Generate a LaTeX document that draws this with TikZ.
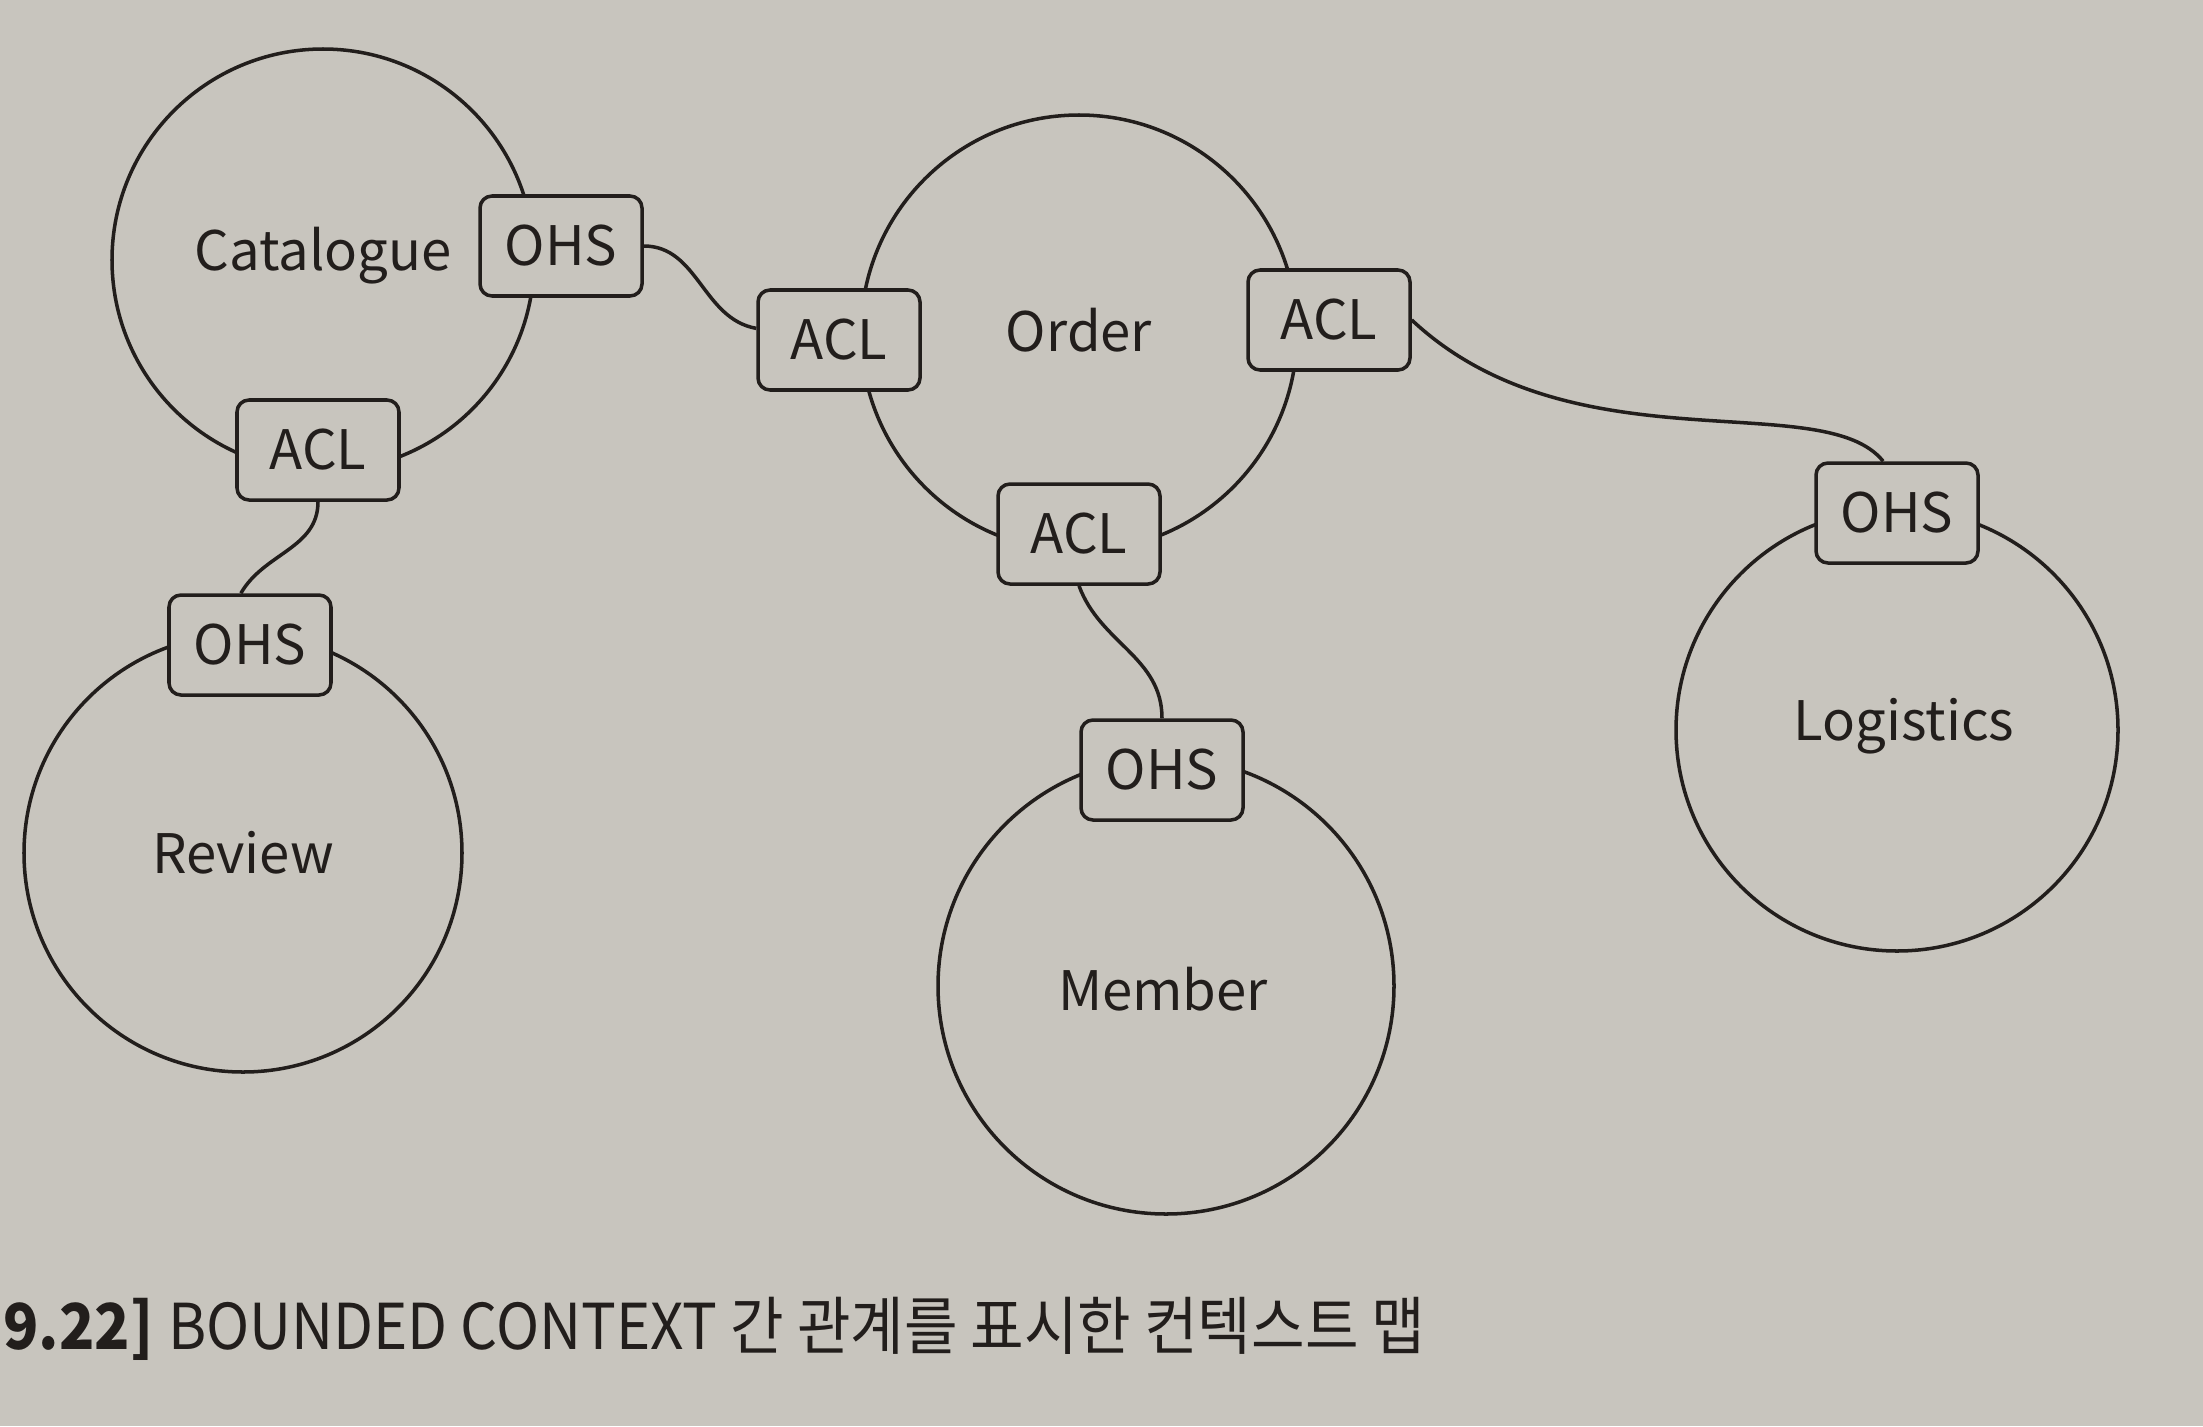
\documentclass[tikz,border=0pt]{standalone}
\usepackage{fontspec}
\setmainfont{Noto Sans CJK KR}
\definecolor{paper}{RGB}{200,197,190}
\definecolor{ink}{RGB}{34,30,28}
\tikzset{
  ctx/.style={circle,draw=ink,line width=1pt,minimum size=#1,inner sep=0pt},
  rel/.style={draw=ink,fill=paper,line width=1pt,rounded corners=1.2mm,minimum width=1.62cm,minimum height=1cm,inner sep=0pt},
  link/.style={draw=ink,line width=1pt}
}
\begin{document}
\begin{tikzpicture}[font=\fontsize{15.5}{18}\selectfont,color=ink]
				\fill[paper] (0,0) rectangle (22.03,-14.26);
				\useasboundingbox (0,0) rectangle (22.03,-14.26);
				% bounded contexts
				\node[ctx=4.22cm] (catalogue) at (3.23,-2.60) {};
				\node[ctx=4.36cm] (order) at (10.79,-3.33) {};
				\node[ctx=4.38cm] (review) at (2.43,-8.53) {};
				\node[ctx=4.56cm] (member) at (11.66,-9.86) {};
				\node[ctx=4.42cm] (logistics) at (18.97,-7.30) {};
				\node at (3.23,-2.56) {Catalogue};
				\node at (10.79,-3.30) {Order};
				\node at (2.43,-8.53) {Review};
				\node at (11.63,-9.89) {Member};
				\node at (19.04,-7.26) {Logistics};
				% relations
				\node[rel] (ohsCat) at (5.61,-2.46) {OHS};
				\node[rel] (aclCat) at (3.18,-4.50) {ACL};
				\node[rel] (ohsRev) at (2.50,-6.45) {OHS};
				\node[rel] (aclOrdL) at (8.39,-3.40) {ACL};
				\node[rel] (aclOrdR) at (13.29,-3.20) {ACL};
				\node[rel] (aclOrdB) at (10.79,-5.34) {ACL};
				\node[rel] (ohsMem) at (11.62,-7.70) {OHS};
				\node[rel] (ohsLog) at (18.97,-5.13) {OHS};
				\draw[link] (ohsCat.east) to[out=0,in=170] (aclOrdL.172);
				\draw[link] (aclCat.south) to[out=-90,in=60] (ohsRev.100);
				\draw[link] (aclOrdB.south) to[out=-70,in=90] (ohsMem.north);
				\draw[link] (aclOrdR.east) .. controls +(1.6,-1.5) and +(-0.6,0.75) .. (ohsLog.105);
				% caption
				\node[anchor=base west,xscale=0.92,transform shape,font=\fontsize{18}{21}\selectfont] (caption) at (-0.08,-13.49)
				  {{\bfseries 9.22]}\hspace{0.25em}BOUNDED CONTEXT 간 관계를 표시한 컨텍스트 맵};
			\end{tikzpicture}
\end{document}
